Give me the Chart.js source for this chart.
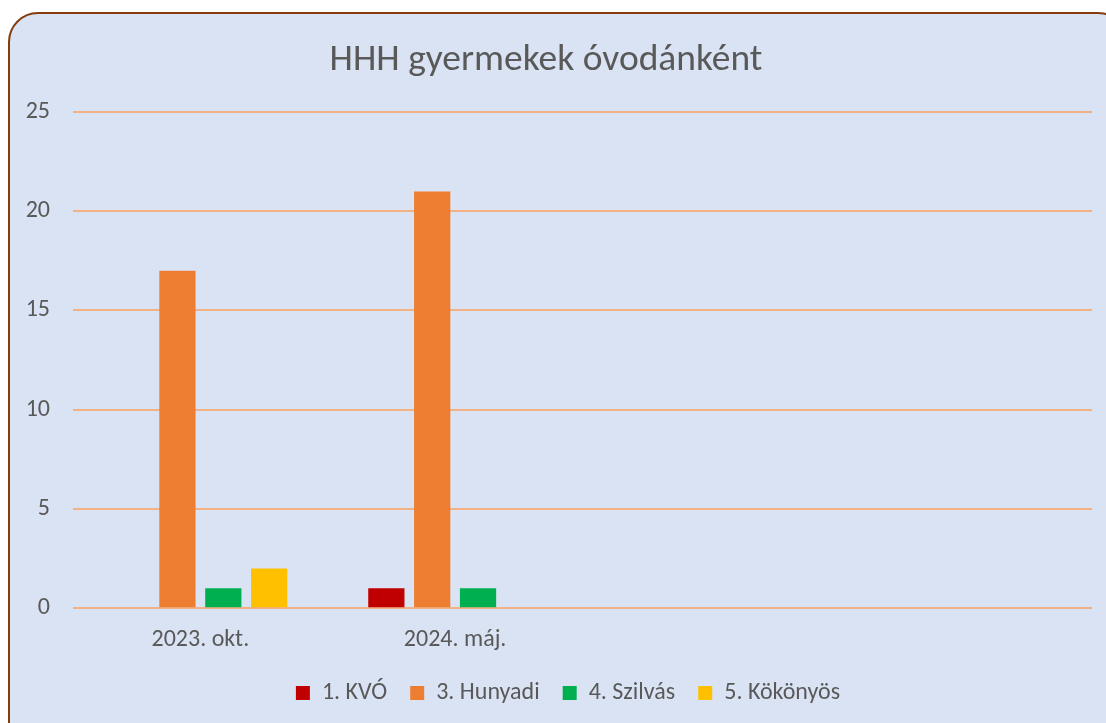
<!DOCTYPE html>
<html>
<head>
<meta charset="utf-8">
<script src="https://cdn.jsdelivr.net/npm/chart.js@4.4.1/dist/chart.umd.min.js"></script>
<style>
  html, body { margin: 0; padding: 0; width: 1106px; height: 723px; overflow: hidden; background: #ffffff; }
  #frame { position: absolute; left: 8px; top: 12px; width: 1120px; height: 740px; box-sizing: border-box;
           border: 2px solid #843C0C; border-radius: 30px; background: #DAE3F3; }
  #wrap { position: absolute; left: 0; top: 0; width: 1106px; height: 723px; }
</style>
</head>
<body>
<div id="frame"></div>
<div id="wrap"><canvas id="c" width="1106" height="723"></canvas></div>
<script>
const categories = ['2023. okt.', '2024. máj.', '', ''];
const seriesNames = ['1. KVÓ', '3. Hunyadi', '4. Szilvás', '5. Kökönyös'];
const kvo      = [0, 1, null, null];
const hunyadi  = [17, 21, null, null];
const szilvas  = [1, 1, null, null];
const kokonyos = [2, 0, null, null];
const yTicks = [0, 5, 10, 15, 20, 25];
const titleText = 'HHH gyermekek óvodánként';

const colors = ['#C00000', '#ED7D31', '#00B050', '#FFC000'];
const values = [kvo, hunyadi, szilvas, kokonyos];
const FONT = "Carlito, Lato, 'Liberation Sans', sans-serif";
const TXT = '#595959';

const shiftLegend = {
  id: 'shiftLegend',
  afterLayout(chart) {
    const l = chart.legend;
    if (!l) return;
    l.top -= 13; l.bottom -= 13;
    l.left += 22; l.right += 22;
  }
};

new Chart(document.getElementById('c'), {
  type: 'bar',
  data: {
    labels: categories,
    datasets: seriesNames.map((n, i) => ({
      label: n, data: values[i], backgroundColor: colors[i],
      borderWidth: 0, barPercentage: 0.79, categoryPercentage: 0.72
    }))
  },
  plugins: [shiftLegend],
  options: {
    responsive: false, animation: false,
    layout: { padding: { left: 0, right: 14, top: 38, bottom: -5 } },
    plugins: {
      title: { display: true, text: titleText, color: TXT,
               font: { family: FONT, size: 37.5, weight: 'normal' }, padding: { top: 0, bottom: 29 } },
      legend: { position: 'bottom',
        labels: { color: TXT, font: { family: FONT, size: 24 }, boxWidth: 14, boxHeight: 14, padding: 23 } },
      tooltip: { enabled: false }
    },
    scales: {
      x: { grid: { display: false, drawTicks: false }, border: { display: false },
           ticks: { color: TXT, font: { family: FONT, size: 24 }, padding: 17 } },
      y: { min: 0, max: 25,
           afterFit: (s) => { s.width = 73; },
           afterBuildTicks: (s) => { s.ticks = yTicks.map(v => ({ value: v })); },
           grid: { color: '#F4B183', lineWidth: 2, drawTicks: false },
           border: { display: false },
           ticks: { color: TXT, font: { family: FONT, size: 24 }, padding: 23 } }
    }
  }
});
</script>
</body>
</html>
